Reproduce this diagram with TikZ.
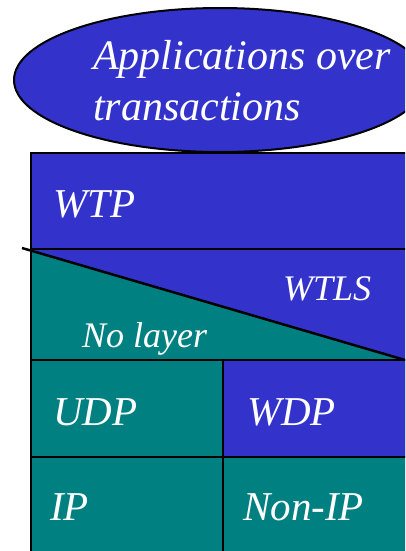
\documentclass[tikz,border=0pt]{standalone}
\usepackage{fontspec}
\setmainfont{Liberation Serif}[ItalicFont={Liberation Serif Italic}]
\usepackage{tikz}
\usetikzlibrary{positioning}
\definecolor{wapblue}{RGB}{51,51,204}
\definecolor{wapteal}{RGB}{0,128,128}

\begin{document}
\begin{tikzpicture}[x=1pt, y=-1pt, layer/.style={draw=black, line width=2.5pt}, bigtext/.style={text=white, font=\itshape\fontsize{41}{50}\selectfont, inner sep=0pt, anchor=base west}, smalltext/.style={bigtext, font=\itshape\fontsize{36}{44}\selectfont}, apptext/.style={bigtext, font=\itshape\fontsize{42}{50}\selectfont}]

    \useasboundingbox (0,0) rectangle (405,551);
    \clip (0,0) rectangle (405,551);

    %Shapes
    \draw[fill=wapblue, line width=2pt] (220,80) ellipse [x radius=206, y radius=72];
    \fill[wapblue] (31,153) rectangle (430,360);
    \fill[wapteal] (31,251) -- (405,360) -- (31,360) -- cycle;
    \fill[wapteal] (31,360) rectangle (430,600);
    \fill[wapblue] (223,360) rectangle (430,457);

    %Lines
    \draw[layer] (31,600) -- (31,153) -- (430,153);
    \draw[layer] (31,249) -- (430,249);
    \draw[layer] (22,248) -- (405,360);
    \draw[layer] (31,360) -- (430,360);
    \draw[layer] (31,457) -- (430,457);
    \draw[layer] (223,360) -- (223,600);

    %Nodes
    \node[apptext] (apps) at (93,70) {Applications over};
    \node[apptext] (trans) at (93,120) {transactions};
    \node[bigtext] (wtp) at (53,217) {WTP};
    \node[smalltext] (wtls) at (283,300) {WTLS};
    \node[smalltext] (nolayer) at (82,347) {No layer};
    \node[bigtext] (udp) at (53,425) {UDP};
    \node[bigtext] (wdp) at (247,425) {WDP};
    \node[bigtext] (ip) at (50,520) {IP};
    \node[bigtext] (nonip) at (243,520) {Non-IP};

\end{tikzpicture}
\end{document}
